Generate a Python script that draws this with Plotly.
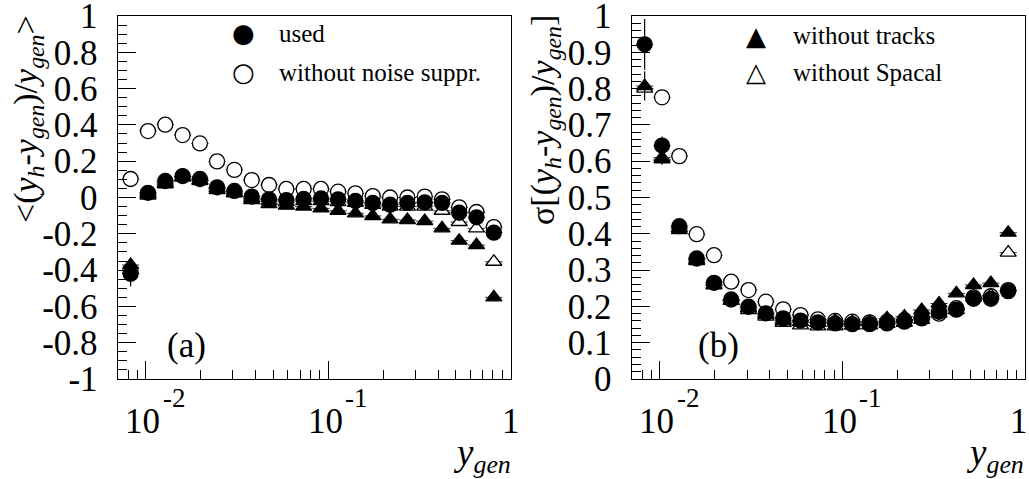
import math
import plotly.graph_objects as go
from plotly.subplots import make_subplots

# ---------------- data ----------------
y_gen = [0.00824, 0.01026, 0.01276, 0.01589, 0.01977, 0.02455, 0.03055, 0.03802,
         0.04732, 0.05888, 0.07328, 0.0912, 0.1132, 0.1409, 0.1754, 0.2183,
         0.2716, 0.3381, 0.4207, 0.5224, 0.6501, 0.8091]

# panel (a): mean relative deviation
mean_used = [-0.42, 0.026, 0.091, 0.118, 0.102, 0.056, 0.036, 0.005, -0.01, -0.014, -0.008,
             -0.005, -0.01, -0.019, -0.03, -0.04, -0.03, -0.027, -0.03, -0.084, -0.109, -0.194]
mean_noise = [0.102, 0.366, 0.401, 0.344, 0.298, 0.199, 0.152, 0.096, 0.069, 0.047, 0.047,
              0.047, 0.032, 0.023, 0.008, 0.0, 0.0, 0.005, -0.01, -0.054, -0.08, -0.163]
mean_notracks = [-0.372, 0.018, 0.073, 0.115, 0.091, 0.041, 0.023, -0.014, -0.036, -0.045, -0.05,
                 -0.06, -0.073, -0.087, -0.102, -0.12, -0.124, -0.13, -0.17, -0.238, -0.262, -0.55]
mean_nospacal = [-0.40, 0.01, 0.08, 0.11, 0.095, 0.05, 0.03, -0.005, -0.02, -0.025, -0.02,
                 -0.02, -0.025, -0.03, -0.041, -0.05, -0.05, -0.05, -0.073, -0.135, -0.17, -0.354]
mean_used_err = [0.07] + [0.0] * 21
mean_notracks_err = [0.04] + [0.0] * 21

# panel (b): resolution
sig_used = [0.922, 0.643, 0.421, 0.332, 0.265, 0.219, 0.199, 0.181, 0.167, 0.161, 0.156,
            0.153, 0.151, 0.151, 0.153, 0.158, 0.167, 0.185, 0.191, 0.221, 0.221, 0.242]
sig_noise = [None, 0.776, 0.614, 0.399, 0.341, 0.268, 0.245, 0.213, 0.192, 0.176, 0.164,
             0.16, 0.158, 0.156, 0.158, 0.162, 0.17, 0.18, 0.195, 0.225, 0.228, 0.245]
sig_notracks = [0.807, 0.605, 0.41, 0.325, 0.258, 0.215, 0.195, 0.177, 0.16, 0.157, 0.155,
                0.16, 0.157, 0.157, 0.167, 0.172, 0.19, 0.208, 0.236, 0.259, 0.264, 0.403]
sig_nospacal = [0.80, 0.61, 0.415, 0.328, 0.26, 0.215, 0.19, 0.172, 0.155, 0.148, 0.145,
                0.145, 0.147, 0.148, 0.152, 0.155, 0.163, 0.18, 0.19, 0.225, 0.23, 0.348]
sig_used_err = [0.07, 0.025] + [0.0] * 20
sig_noise_err = [0.0, 0.015] + [0.0] * 20
sig_notracks_err = [0.04, 0.015] + [0.0] * 20

x_major = [0.01, 0.1, 1]
x_minor = [0.007, 0.008, 0.009, 0.02, 0.03, 0.04, 0.05, 0.06, 0.07, 0.08, 0.09,
           0.2, 0.3, 0.4, 0.5, 0.6, 0.7, 0.8, 0.9]
x_ticklabels = [(0.01, "10", "-2"), (0.1, "10", "-1"), (1, "1", "")]
ya_vals = [-1, -0.8, -0.6, -0.4, -0.2, 0, 0.2, 0.4, 0.6, 0.8, 1]
ya_text = ["-1", "-0.8", "-0.6", "-0.4", "-0.2", "0", "0.2", "0.4", "0.6", "0.8", "1"]
yb_vals = [0, 0.1, 0.2, 0.3, 0.4, 0.5, 0.6, 0.7, 0.8, 0.9, 1]
yb_text = ["0", "0.1", "0.2", "0.3", "0.4", "0.5", "0.6", "0.7", "0.8", "0.9", "1"]

# ---------------- figure ----------------
W, H = 1029, 479
FONT = "Liberation Serif"
fig = make_subplots(rows=1, cols=2)

# half bin width in log10 units (x error bars)
HALF = 0.0474
ex_plus = [x * (10 ** HALF - 1) for x in y_gen]
ex_minus = [x * (1 - 10 ** -HALF) for x in y_gen]


def add(series, col, symbol, fill, size, name, yerr=None):
    ey = dict(type="data", array=yerr, visible=True, color="black", thickness=1.2, width=0) \
        if yerr is not None else dict(visible=False)
    fig.add_trace(go.Scatter(
        x=y_gen, y=series, mode="markers", name=name, showlegend=False,
        marker=dict(symbol=symbol, size=size, color=fill,
                    line=dict(color="black", width=1.3)),
        error_x=dict(type="data", array=ex_plus, arrayminus=ex_minus, visible=True,
                     color="#333", thickness=1, width=0),
        error_y=ey,
    ), row=1, col=col)


# panel (a)
add(mean_noise, 1, "circle", "white", 15, "without noise suppr.")
add(mean_nospacal, 1, "triangle-up", "white", 14, "without Spacal")
add(mean_notracks, 1, "triangle-up", "black", 14, "without tracks", mean_notracks_err)
add(mean_used, 1, "circle", "black", 15, "used", mean_used_err)
# panel (b)
add(sig_noise, 2, "circle", "white", 15, "without noise suppr.", sig_noise_err)
add(sig_nospacal, 2, "triangle-up", "white", 14, "without Spacal")
add(sig_notracks, 2, "triangle-up", "black", 14, "without tracks", sig_notracks_err)
add(sig_used, 2, "circle", "black", 15, "used", sig_used_err)

x1_dom = [117.7 / W, 510.6 / W]
x2_dom = [631.7 / W, 1025.0 / W]
y_dom = [1 - 379 / H, 1 - 16 / H]

xcommon = dict(type="log", range=[-2.155, 0.0], showgrid=False, zeroline=False,
               showline=True, linecolor="black", linewidth=1.2, mirror=True,
               ticks="inside", ticklen=18, tickwidth=1.2, tickcolor="black",
               tickvals=x_major, showticklabels=False, automargin=False,
               minor=dict(ticks="inside", ticklen=9, tickwidth=1.2, tickcolor="black",
                          tickvals=x_minor, showgrid=False))
fig.update_xaxes(**xcommon)
fig.update_xaxes(domain=x1_dom, row=1, col=1)
fig.update_xaxes(domain=x2_dom, row=1, col=2)

TF = dict(family=FONT, size=35, color="black")
ycommon = dict(showgrid=False, zeroline=False, showline=True, linecolor="black",
               linewidth=1.2, mirror=True, ticks="inside", ticklen=18, tickwidth=1.2,
               tickcolor="black", tickfont=TF, ticklabeloverflow="allow",
               ticklabelstandoff=12, domain=y_dom, automargin=False)
fig.update_yaxes(**ycommon)
fig.update_yaxes(range=[-1, 1], tickvals=ya_vals, ticktext=ya_text,
                 minor=dict(ticks="inside", ticklen=9, tickwidth=1.2, tickcolor="black",
                            dtick=0.05, tick0=0), row=1, col=1)
fig.update_yaxes(range=[0, 1], tickvals=yb_vals, ticktext=yb_text,
                 minor=dict(ticks="inside", ticklen=9, tickwidth=1.2, tickcolor="black",
                            dtick=0.02, tick0=0), row=1, col=2)


def px(x):
    return x / W


def py(y):
    return 1 - y / H


ann = []
# x tick labels (10^-2, 10^-1, 1) -- annotation x on log axes is in log10 units
for xref in ["x", "x2"]:
    for v, base, exp in x_ticklabels:
        shift = -3 if exp else (-6 if xref == "x2" else 0)
        ann.append(dict(x=math.log10(v), xref=xref, y=py(421), yref="paper", text=base,
                        showarrow=False, xanchor="center", yanchor="middle", font=TF,
                        xshift=shift))
        if exp:
            ann.append(dict(x=math.log10(v), xref=xref, y=py(398), yref="paper", text=exp,
                            showarrow=False, xanchor="left", yanchor="middle",
                            font=dict(family=FONT, size=27, color="black"), xshift=15))

# x axis titles
for xr in [513, 1026]:
    ann.append(dict(x=px(xr), xref="paper", y=py(481), yref="paper",
                    text="<i>y</i><sub><i>gen</i></sub>", showarrow=False,
                    xanchor="right", yanchor="bottom",
                    font=dict(family=FONT, size=37, color="black")))

# y axis titles
TT = dict(family=FONT, size=34, color="black")
ann.append(dict(x=px(28), xref="paper", y=py(13), yref="paper", textangle=-90,
                text="&lt;(<i>y</i><sub><i>h</i></sub>-<i>y</i><sub><i>gen</i></sub>)/<i>y</i><sub><i>gen</i></sub>&gt;",
                showarrow=False, xanchor="center", yanchor="top", font=TT))
ann.append(dict(x=px(545), xref="paper", y=py(13), yref="paper", textangle=-90,
                text="σ[(<i>y</i><sub><i>h</i></sub>-<i>y</i><sub><i>gen</i></sub>)/<i>y</i><sub><i>gen</i></sub>]",
                showarrow=False, xanchor="center", yanchor="top", font=TT))

# panel labels
ann.append(dict(x=px(186), xref="paper", y=py(345), yref="paper", text="(a)",
                showarrow=False, xanchor="center", yanchor="middle", font=TF))
ann.append(dict(x=px(718), xref="paper", y=py(345), yref="paper", text="(b)",
                showarrow=False, xanchor="center", yanchor="middle", font=TF))

# legends
LF = dict(family=FONT, size=25, color="black")
SF = dict(family="DejaVu Sans", size=26, color="black")
leg = [
    (243, 33, "●", 277, "used"),
    (243, 72, "○", 277, "without noise suppr."),
    (756, 36, "▲", 791, "without tracks"),
    (756, 72, "△", 791, "without Spacal"),
]
for sx, sy, sym, tx, label in leg:
    ann.append(dict(x=px(sx), xref="paper", y=py(sy), yref="paper", text=sym,
                    showarrow=False, xanchor="center", yanchor="middle", font=SF))
    ann.append(dict(x=px(tx), xref="paper", y=py(sy), yref="paper", text=label,
                    showarrow=False, xanchor="left", yanchor="middle", font=LF))

fig.update_layout(width=W, height=H, margin=dict(l=0, r=0, t=0, b=0, autoexpand=False),
                  paper_bgcolor="white", plot_bgcolor="white",
                  showlegend=False, annotations=ann,
                  font=dict(family=FONT, color="black"))

fig.write_html("out.html")
